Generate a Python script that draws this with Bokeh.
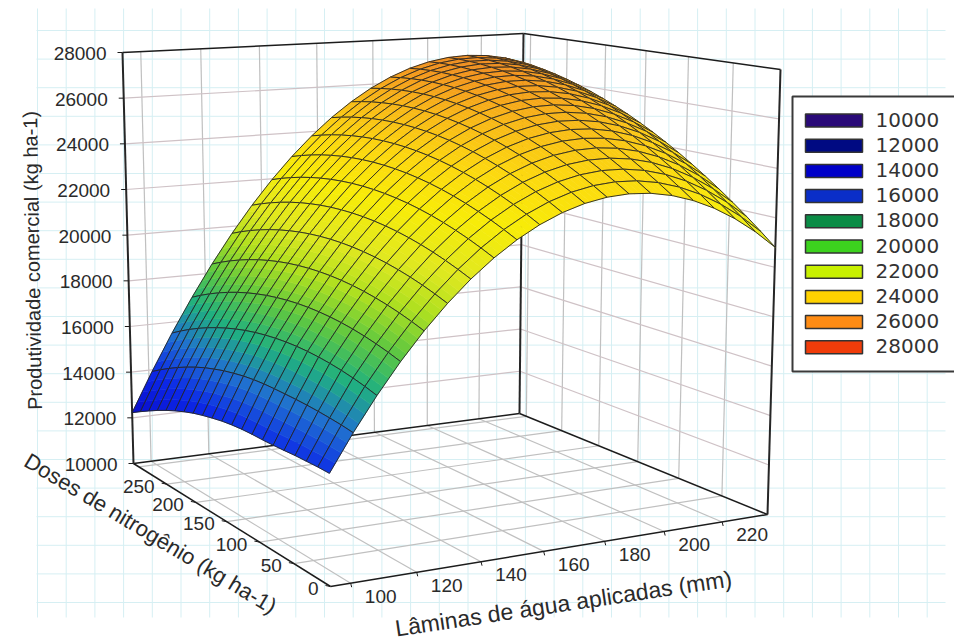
from bokeh.plotting import figure
from bokeh.embed import file_html
from bokeh.resources import INLINE
from bokeh.core.properties import value
import numpy as np

# ---- data ----
WATER = [94.0, 101.1, 108.2, 115.3, 122.4, 129.5, 136.6, 143.7, 150.8, 157.9, 165.0,
         172.1, 179.2, 186.3, 193.4, 200.5, 207.6, 214.7, 221.8, 228.9, 236.0]
DOSE = [0.0, 15.5, 31.0, 46.5, 62.0, 77.5, 93.0, 108.5, 124.0, 139.5, 155.0,
        170.5, 186.0, 201.5, 217.0, 232.5, 248.0, 263.5, 279.0, 294.5, 310.0]
# one row per dose, one column per water depth
YIELD = [
 [14174,15553,16821,17980,19028,19966,20794,21511,22118,22615,23002,23278,23444,23500,23446,23281,23006,22621,22125,21520,20804],
 [14180,15627,16961,18137,19202,20157,21003,21738,22364,22880,23286,23582,23768,23844,23811,23667,23413,23050,22576,21994,21301],
 [14170,15679,17080,18272,19355,20328,21191,21945,22589,23123,23549,23864,24070,24167,24154,24031,23799,23458,23006,22446,21776],
 [14160,15720,17177,18386,19486,20476,21357,22129,22791,23345,23790,24125,24351,24468,24476,24374,24163,23844,23414,22877,22230],
 [14130,15749,17252,18478,19594,20602,21501,22291,22972,23545,24009,24363,24609,24747,24776,24695,24506,24208,23801,23286,22661],
 [14110,15766,17306,18549,19682,20707,21625,22433,23132,23724,24207,24581,24847,25005,25054,24995,24827,24551,24166,23673,23072],
 [14097,15772,17339,18597,19748,20791,21726,22552,23270,23880,24383,24777,25063,25241,25311,25272,25126,24872,24509,24039,23460],
 [14096,15777,17350,18625,19793,20853,21806,22650,23387,24016,24538,24951,25257,25456,25547,25529,25404,25172,24831,24384,23828],
 [14080,15770,17339,18631,19816,20893,21864,22726,23481,24130,24671,25104,25430,25649,25760,25764,25660,25450,25131,24706,24173],
 [14040,15740,17306,18615,19817,20912,21900,22781,23554,24221,24782,25234,25580,25820,25952,25976,25894,25706,25409,25007,24497],
 [13980,15690,17252,18577,19796,20909,21915,22814,23606,24292,24872,25344,25710,25970,26123,26168,26108,25941,25667,25287,24799],
 [13890,15608,17176,18518,19754,20884,21908,22825,23636,24341,24939,25432,25818,26097,26271,26338,26299,26153,25902,25544,25080],
 [13790,15514,17079,18438,19691,20839,21880,22816,23645,24368,24986,25498,25904,26204,26399,26486,26469,26345,26116,25781,25339],
 [13670,15389,16960,18336,19606,20771,21830,22784,23631,24374,25011,25543,25969,26289,26504,26613,26617,26515,26308,25995,25577],
 [13520,15252,16819,18211,19499,20681,21758,22730,23596,24358,25014,25565,26011,26352,26588,26718,26743,26663,26478,26188,25792],
 [13350,15083,16657,18066,19371,20570,21666,22656,23540,24321,24996,25567,26033,26394,26651,26802,26848,26790,26627,26360,25987],
 [13160,14893,16474,17899,19221,20438,21551,22559,23462,24261,24956,25547,26033,26414,26691,26863,26931,26895,26754,26509,26159],
 [12950,14682,16269,17711,19049,20284,21415,22441,23363,24181,24895,25505,26011,26413,26711,26904,26994,26979,26861,26638,26311],
 [12720,14449,16042,17500,18856,20108,21257,22301,23241,24079,24812,25442,25968,26390,26709,26923,27034,27041,26945,26745,26440],
 [12480,14198,15793,17268,18641,19911,21077,22140,23098,23954,24707,25356,25902,26345,26684,26919,27052,27081,27007,26829,26548],
 [12228,13927,15523,17015,18405,19692,20876,21957,22934,23809,24581,25250,25816,26279,26639,26895,27049,27100,27048,26893,26634],
]
Z_TICKS = [10000, 12000, 14000, 16000, 18000, 20000, 22000, 24000, 26000, 28000]
WATER_TICKS = [100, 120, 140, 160, 180, 200, 220]
DOSE_TICKS = [0, 50, 100, 150, 200, 250]
DOSE_GRID = [50, 100, 150, 200, 250, 300]
LEGEND_COLORS = ["#2a0a78", "#000a82", "#0000c8", "#0a2ec8", "#0a8c46",
                 "#3cd21e", "#c8f000", "#ffd200", "#ff8c14", "#f03c0a"]
# colours of the surface itself at given heights
SURF_Z = [12000, 14000, 15500, 16900, 18260, 19600, 20850, 22500, 24000, 25500, 26500, 27200]
SURF_C = ["#0808c8", "#0c28e8", "#2070d0", "#20b080", "#60c840", "#b0e020",
          "#e0e820", "#f8ec08", "#fcd810", "#f8b818", "#f49c1c", "#ec8820"]
TITLE_Z = "Produtividade comercial (kg ha-1)"
TITLE_DOSE = "Doses de nitrogênio (kg ha-1)"
TITLE_WATER = "Lâminas de água aplicadas (mm)"

# ---- the camera of the 3D box: floor/top screen position and weight of each vertical edge ----
CAM = {(0, 0): ((330, 586), (325.4, 98), 1 / 488),
       (1, 0): ((767, 514), (780, 69), 1 / 445),
       (0, 1): ((133, 463), (122, 52), 1 / 411),
       (1, 1): ((519, 413), (523, 33), 1 / 380)}
W0, W1 = WATER[0], WATER[-1]
D1 = DOSE[-1]
Z0, Z1 = Z_TICKS[0], Z_TICKS[-1]


def proj(water, dose, z):
    u, v, t = (water - W0) / (W1 - W0), dose / D1, (z - Z0) / (Z1 - Z0)
    X = Y = W = 0.0
    for (a, b), (fl, tp, w) in CAM.items():
        k = (u if a else 1 - u) * (v if b else 1 - v) * w
        X += k * (fl[0] * (1 - t) + tp[0] * t)
        Y += k * (fl[1] * (1 - t) + tp[1] * t)
        W += k
    return X / W, Y / W


def rgb(h):
    return np.array([int(h[i:i + 2], 16) for i in (1, 3, 5)], float)


RGB = np.array([rgb(c) for c in SURF_C])


def colour(z):
    c = [np.interp(z, SURF_Z, RGB[:, k]) for k in range(3)]
    return "#%02x%02x%02x" % tuple(int(round(a)) for a in c)


p = figure(width=954, height=644, x_range=(0, 954), y_range=(644, 0),
           toolbar_location=None, output_backend="svg", min_border=0)
p.axis.visible = False
p.grid.visible = False
p.outline_line_color = None
p.background_fill_color = "white"
p.border_fill_color = "white"

# squared paper behind the chart
vx = np.arange(37, 946, 28.7)
hy = np.arange(30, 618, 28.6)
p.segment(vx, 8, vx, 617, line_color="#d6eff3", line_width=1)
p.segment(36, hy, 945, hy, line_color="#d6eff3", line_width=1)


def seg(pts, color, width):
    p.segment([a[0] for a, b in pts], [a[1] for a, b in pts],
              [b[0] for a, b in pts], [b[1] for a, b in pts],
              line_color=color, line_width=width)


# walls and floor grid
gray = "#c0c0c0"
pink = "#cfc2c6"
g = []
for w in WATER_TICKS:
    g.append((proj(w, D1, Z0), proj(w, D1, Z1)))
    g.append((proj(w, 0, Z0), proj(w, D1, Z0)))
for d in DOSE_GRID:
    g.append((proj(W1, d, Z0), proj(W1, d, Z1)))
    g.append((proj(W0, d, Z0), proj(W1, d, Z0)))
seg(g, gray, 1.2)
g = []
for z in Z_TICKS[1:-1]:
    g.append((proj(W0, D1, z), proj(W1, D1, z)))
    g.append((proj(W1, D1, z), proj(W1, 0, z)))
seg(g, pink, 1.2)

# box edges
edges = [(proj(W0, D1, Z1), proj(W1, D1, Z1)), (proj(W1, D1, Z1), proj(W1, 0, Z1)),
         (proj(W0, D1, Z0), proj(W1, D1, Z0)), (proj(W1, D1, Z0), proj(W1, 0, Z0)),
         (proj(W0, D1, Z0), proj(W0, 0, Z0)), (proj(W0, 0, Z0), proj(W1, 0, Z0))]
seg(edges, "#1c1c1c", 1.5)
uprights = [(proj(W0, D1, Z0), proj(W0, D1, Z1)), (proj(W1, D1, Z0), proj(W1, D1, Z1)),
            (proj(W1, 0, Z0), proj(W1, 0, Z1))]
seg(uprights, "#262626", 2)

# tick marks
t = []
for z in Z_TICKS:
    a = proj(W0, D1, z)
    t.append(((a[0] - 5, a[1]), a))
for d in DOSE_TICKS:
    a = proj(W0, d, Z0)
    t.append(((a[0] - 5, a[1] - 1), a))
for w in WATER_TICKS:
    a = proj(w, 0, Z0)
    t.append(((a[0] + 1, a[1] + 4), a))
seg(t, "#1c1c1c", 1)

# surface, far cells first; each mesh cell is shaded across its width, then outlined
SHADES = 4
xs, ys, fills, falpha, lines, lalpha, lw = [], [], [], [], [], [], []
for i in range(len(WATER) - 2, -1, -1):
    for j in range(len(DOSE) - 2, -1, -1):
        corners = [(i, j), (i + 1, j), (i + 1, j + 1), (i, j + 1)]
        pts = np.array([proj(WATER[a], DOSE[b], YIELD[b][a]) for a, b in corners])
        zc = np.array([YIELD[b][a] for a, b in corners], float)
        for k in range(SHADES):
            f0, f1 = k / SHADES, (k + 1) / SHADES
            a0 = pts[0] + (pts[1] - pts[0]) * f0
            a1 = pts[0] + (pts[1] - pts[0]) * f1
            b1 = pts[3] + (pts[2] - pts[3]) * f1
            b0 = pts[3] + (pts[2] - pts[3]) * f0
            fm = (f0 + f1) / 2
            zm = ((zc[0] + (zc[1] - zc[0]) * fm) + (zc[3] + (zc[2] - zc[3]) * fm)) / 2
            c = colour(zm)
            xs.append([a0[0], a1[0], b1[0], b0[0]])
            ys.append([a0[1], a1[1], b1[1], b0[1]])
            fills.append(c); falpha.append(1.0); lines.append(c); lalpha.append(1.0); lw.append(0.6)
        xs.append(list(pts[:, 0]))
        ys.append(list(pts[:, 1]))
        fills.append("#000000"); falpha.append(0.0)
        lines.append("#242424"); lalpha.append(0.9); lw.append(1.0)
p.patches(xs, ys, fill_color=fills, fill_alpha=falpha, line_color=lines,
          line_alpha=lalpha, line_width=lw)

FONT = value("Liberation Sans")
TXT = "#2a2a2a"

# tick labels
zx = [proj(W0, D1, z)[0] - 16 for z in Z_TICKS]
zy = [proj(W0, D1, z)[1] + 1 for z in Z_TICKS]
p.text(zx, zy, text=[str(z) for z in Z_TICKS], text_font=FONT, text_font_size="19px",
       text_align="right", text_baseline="middle", text_color=TXT)
dx = [proj(W0, d, Z0)[0] - 12 for d in DOSE_TICKS]
dy = [proj(W0, d, Z0)[1] + 2 for d in DOSE_TICKS]
p.text(dx, dy, text=[str(d) for d in DOSE_TICKS], text_font=FONT, text_font_size="19px",
       text_align="right", text_baseline="middle", text_color=TXT)
wx = [proj(w, 0, Z0)[0] + 30 for w in WATER_TICKS]
wy = [proj(w, 0, Z0)[1] + 13 for w in WATER_TICKS]
p.text(wx, wy, text=[str(w) for w in WATER_TICKS], text_font=FONT, text_font_size="19px",
       text_align="center", text_baseline="middle", text_color=TXT)

# axis titles
p.text([32], [260], text=[TITLE_Z], angle=[91], angle_units="deg", text_font=FONT,
       text_font_size="20px", text_align="center", text_baseline="middle", text_color=TXT)
p.text([150], [533], text=[TITLE_DOSE], angle=[-31], angle_units="deg", text_font=FONT,
       text_font_size="22px", text_align="center", text_baseline="middle", text_color=TXT)
p.text([563], [603], text=[TITLE_WATER], angle=[8.5], angle_units="deg", text_font=FONT,
       text_font_size="23px", text_align="center", text_baseline="middle", text_color=TXT)

# legend
p.quad(left=[792], right=[960], top=[96], bottom=[371], fill_color="white",
       line_color="#3a3a3a", line_width=2)
row = np.arange(len(Z_TICKS))
ly = 120 + 25.2 * row
p.quad(left=805, right=862, top=ly - 6.5, bottom=ly + 6.5, fill_color=LEGEND_COLORS,
       line_color="#333333", line_width=1.5)
p.text(875, ly - 1, text=[str(z) for z in Z_TICKS], text_font=value("DejaVu Sans"),
       text_font_size="20px", text_align="left", text_baseline="middle", text_color="#333333")

open("out.html", "w").write(file_html(p, INLINE))
